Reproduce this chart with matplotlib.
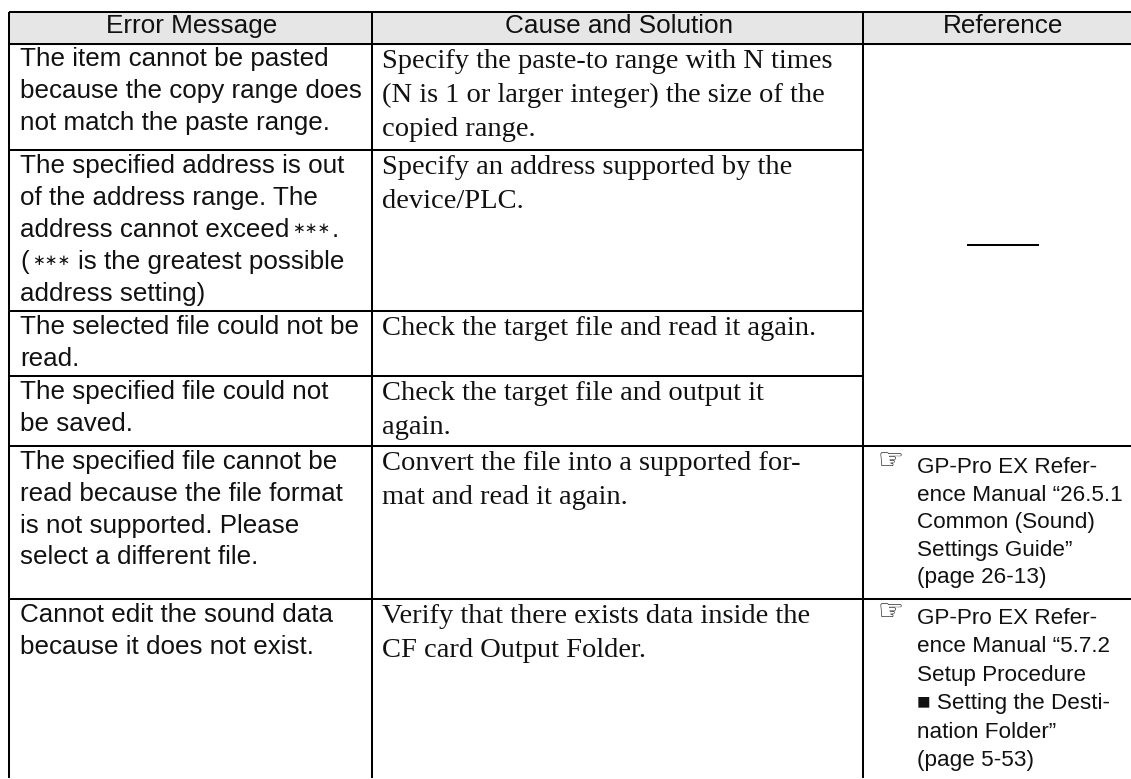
import matplotlib
matplotlib.use("Agg")
import matplotlib.pyplot as plt

W, H = 1131, 779

# textos da tabela
cabecalho = ["Error Message", "Cause and Solution", "Reference"]
erros = [
    ["The item cannot be pasted", "because the copy range does", "not match the paste range."],
    ["The specified address is out", "of the address range. The", "address cannot exceed ∗∗∗.", "(∗∗∗ is the greatest possible", "address setting)"],
    ["The selected file could not be", "read."],
    ["The specified file could not", "be saved."],
    ["The specified file cannot be", "read because the file format", "is not supported. Please", "select a different file."],
    ["Cannot edit the sound data", "because it does not exist."],
]
causas = [
    ["Specify the paste-to range with N times", "(N is 1 or larger integer) the size of the", "copied range."],
    ["Specify an address supported by the", "device/PLC."],
    ["Check the target file and read it again."],
    ["Check the target file and output it", "again."],
    ["Convert the file into a supported for-", "mat and read it again."],
    ["Verify that there exists data inside the", "CF card Output Folder."],
]
ref5 = ["GP-Pro EX Refer-", "ence Manual “26.5.1", "Common (Sound)", "Settings Guide”", "(page 26-13)"]
ref6 = ["GP-Pro EX Refer-", "ence Manual “5.7.2", "Setup Procedure", "■ Setting the Desti-", "nation Folder”", "(page 5-53)"]

# geometria (pixels)
col_x = [8.5, 372, 863]
lin_y = [11.5, 43.5, 150, 311, 376, 446, 599]

fig = plt.figure(figsize=(W / 100, H / 100), dpi=100)
ax = fig.add_axes([0, 0, 1, 1])
ax.set_xlim(0, W)
ax.set_ylim(H, 0)
ax.axis("off")

sans = "Liberation Sans"
serif = "Liberation Serif"
cor = "#111111"
lw = 1.45
rend = fig.canvas.get_renderer()


def linha_sans(x, y, t):
    # os asteriscos sao menores que o texto, entao vao em pedacos
    partes = t.split("∗∗∗")
    for k, p in enumerate(partes):
        if k > 0:
            s = ax.text(x + 3, y - 3.5, "∗∗∗", family="DejaVu Sans", fontsize=11, va="baseline", color=cor)
            x = s.get_window_extent(rend).x1 + 1
        if p.startswith(" "):
            x += 7
        tx = ax.text(x, y, p.strip(), family=sans, fontsize=18.7, va="baseline", color=cor)
        x = tx.get_window_extent(rend).x1


# cabecalho cinza
ax.fill_between([col_x[0], W], lin_y[0], lin_y[1], color="#e6e6e6", zorder=0)
cab_x = [192, 619, 1003]
for x, t in zip(cab_x, cabecalho):
    ax.text(x, 33, t, family=sans, fontsize=18.8, ha="center", va="baseline", color=cor)

# linhas da tabela
for x in col_x:
    ax.plot([x, x], [lin_y[0], H - 1], color="k", lw=lw, solid_capstyle="butt")
for i, y in enumerate(lin_y):
    x_fim = col_x[2] if i in (2, 3, 4) else W
    ax.plot([col_x[0], x_fim], [y, y], color="k", lw=lw, solid_capstyle="butt")
ax.plot([967, 1039], [245, 245], color="k", lw=lw, solid_capstyle="butt")

for i in range(6):
    for j, t in enumerate(erros[i]):
        linha_sans(20, lin_y[i + 1] + 22.5 + j * 32, t)
    for j, t in enumerate(causas[i]):
        ax.text(382, lin_y[i + 1] + 24 + j * 34.2, t, family=serif, fontsize=20.5, va="baseline", color=cor)

# referencias com a mao
for bloco, y0, passo in ((ref5, 473, 27.6), (ref6, 624, 28.4)):
    ax.text(877, y0 - 12, "☞", family="DejaVu Sans", fontsize=21, va="center", color=cor)
    for j, t in enumerate(bloco):
        ax.text(917, y0 + j * passo, t, family=sans, fontsize=16.2, va="baseline", color=cor)

fig.savefig("out.png", dpi=100)
